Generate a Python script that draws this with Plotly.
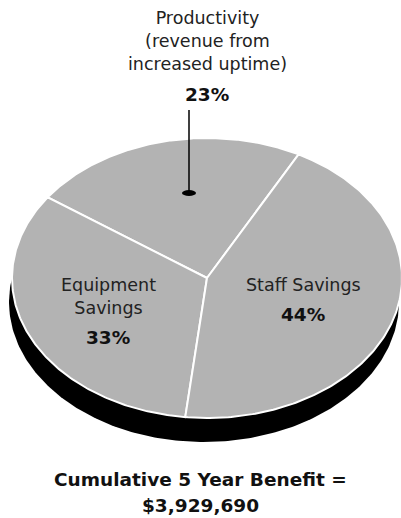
import numpy as np
import plotly.graph_objects as go

# ---- data ----
categories = ["Productivity", "Equipment Savings", "Staff Savings"]
values = [23, 33, 44]
cat_text = ["Productivity<br>(revenue from<br>increased uptime)", "Equipment<br>Savings", "Staff Savings"]
pct_text = ["23%", "33%", "44%"]
title_lines = ["Cumulative 5 Year Benefit =", "$3,929,690"]

# ---- geometry (pixel-like coordinate system) ----
W, H = 401, 518
cx, cy = 207, 278
a, b = 195, 140
depth = 24
start_deg = 62.0
face_color = "#b3b3b3"

fig = go.Figure()

# shadow / side
t = np.linspace(0, 2 * np.pi, 400)
fig.add_trace(go.Scatter(x=cx - 3 + a * np.cos(t), y=cy + depth - b * np.sin(t),
                         mode="lines", fill="toself", fillcolor="black",
                         line=dict(color="black", width=0), hoverinfo="skip", showlegend=False))

total = float(sum(values))
ang = start_deg
for cat, v in zip(categories, values):
    span = 360.0 * v / total
    th = np.radians(np.linspace(ang, ang + span, 200))
    xs = np.concatenate([[cx], cx + a * np.cos(th), [cx]])
    ys = np.concatenate([[cy], cy - b * np.sin(th), [cy]])
    fig.add_trace(go.Scatter(x=xs, y=ys, mode="lines", fill="toself", fillcolor=face_color,
                             line=dict(color="white", width=2), name=cat,
                             hoverinfo="name", showlegend=False))
    ang += span

font_reg = dict(family="DejaVu Sans, sans-serif", size=17.5, color="#222222")
font_bold = dict(family="DejaVu Sans, sans-serif", size=18.5, color="#111111")

# Productivity label (outside, with leader line)
fig.add_annotation(x=207, y=41, text=cat_text[0], showarrow=False, font=font_reg,
                   xanchor="center", yanchor="middle", align="center")
fig.add_annotation(x=207, y=94, text="<b>" + pct_text[0] + "</b>", showarrow=False,
                   font=font_bold, xanchor="center", yanchor="middle")
fig.add_shape(type="line", x0=189, x1=189, y0=110, y1=193, line=dict(color="black", width=1.5))
fig.add_shape(type="circle", x0=182, x1=196, y0=190, y1=196, fillcolor="black",
              line=dict(color="black", width=0))

# Equipment label
fig.add_annotation(x=108, y=296, text=cat_text[1], showarrow=False, font=font_reg,
                   xanchor="center", yanchor="middle", align="center")
fig.add_annotation(x=108, y=337, text="<b>" + pct_text[1] + "</b>", showarrow=False,
                   font=font_bold, xanchor="center", yanchor="middle")

# Staff label
fig.add_annotation(x=303, y=285, text=cat_text[2], showarrow=False, font=font_reg,
                   xanchor="center", yanchor="middle", align="center")
fig.add_annotation(x=303, y=314, text="<b>" + pct_text[2] + "</b>", showarrow=False,
                   font=font_bold, xanchor="center", yanchor="middle")

# bottom title
fig.add_annotation(x=200, y=479, text="<b>" + title_lines[0] + "</b>", showarrow=False,
                   font=font_bold, xanchor="center", yanchor="middle")
fig.add_annotation(x=200, y=505, text="<b>" + title_lines[1] + "</b>", showarrow=False,
                   font=font_bold, xanchor="center", yanchor="middle")

fig.update_layout(width=W, height=H, margin=dict(l=0, r=0, t=0, b=0),
                  paper_bgcolor="white", plot_bgcolor="white",
                  xaxis=dict(range=[0, W], visible=False, fixedrange=True),
                  yaxis=dict(range=[H, 0], visible=False, fixedrange=True),
                  showlegend=False)

fig.write_html("out.html", config={"displayModeBar": False},
               post_script="document.body.style.margin='0';document.body.style.overflow='hidden';")
